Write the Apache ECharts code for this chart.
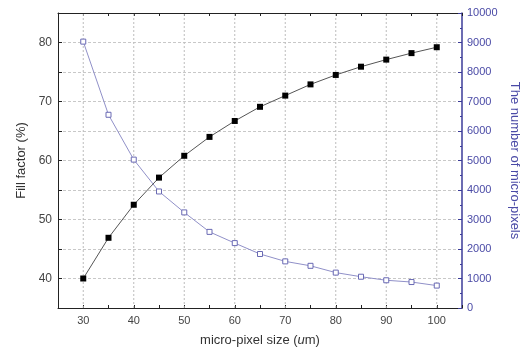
<!DOCTYPE html>
<html lang="en">
<head>
    <meta charset="UTF-8">
    <title>fill_factor_chart</title>
    <script src="https://cdn.jsdelivr.net/npm/echarts@6/dist/echarts.min.js"></script>
    <style>
        html, body { margin: 0; padding: 0; background: #fff; }
    </style>
</head>

<body>
    <div id="mainChart" style="width: 522px; height: 351px;"></div>
    <script>
        // micro-pixel size (um)
        let pixelSize = [30, 35, 40, 45, 50, 55, 60, 65, 70, 75, 80, 85, 90, 95, 100]
        // fill factor (%) - left axis
        let fillFactor = [40.0, 46.9, 52.5, 57.1, 60.8, 64.0, 66.7, 69.1, 71.0, 72.9, 74.5, 75.9, 77.1, 78.2, 79.2]
        // number of micro-pixels - right axis
        let pixelCount = [9030, 6550, 5030, 3950, 3240, 2580, 2200, 1830, 1580, 1430, 1200, 1060, 940, 880, 760]
        // labelled x ticks, also where the vertical grid lines sit
        let xMajor = [30, 40, 50, 60, 70, 80, 90, 100]

        let font = 'Liberation Sans, Arial, sans-serif'
        let blue = '#3b3b98'
        let gridColor = '#c8c8c8'

        function xAxisBase(pos) {
            return {
                type: 'value',
                position: pos,
                min: 25,
                max: 105,
                interval: 5,
                axisLine: { show: true, onZero: false, lineStyle: { color: '#222', width: 1 } },
                axisTick: { show: true, inside: true, length: 3, lineStyle: { color: '#222' } },
                splitLine: { show: false }
            }
        }

        let bottomX = xAxisBase('bottom')
        bottomX.name = '{a|micro-pixel size (}{i|u}{a|m)}'
        bottomX.nameLocation = 'middle'
        bottomX.nameGap = 26
        bottomX.nameTextStyle = {
            rich: {
                a: { fontSize: 13, color: '#333', fontFamily: font },
                i: { fontSize: 13, color: '#333', fontFamily: font, fontStyle: 'italic' }
            }
        }
        bottomX.axisLabel = {
            color: '#444',
            fontSize: 11,
            margin: 7,
            formatter: v => (v % 10 === 0 ? String(v) : '')
        }

        let topX = xAxisBase('top')
        topX.axisLabel = { show: false }

        // one thin dashed series per vertical grid line, drawn behind the data
        let gridSeries = xMajor.map(v => ({
            type: 'line',
            xAxisIndex: 0,
            yAxisIndex: 0,
            data: [[v, 35], [v, 85]],
            symbol: 'none',
            silent: true,
            z: 1,
            lineStyle: { color: '#bdbdbd', type: [2, 2], width: 1 }
        }))

        let chartsData = {
            animation: false,
            textStyle: { fontFamily: font },
            grid: { left: 58, right: 60, top: 13, bottom: 43, outerBoundsMode: 'none', containLabel: false },
            xAxis: [bottomX, topX],
            yAxis: [
                {
                    type: 'value',
                    position: 'left',
                    min: 35,
                    max: 85,
                    interval: 5,
                    name: 'Fill factor (%)',
                    nameLocation: 'middle',
                    nameGap: 28,
                    nameTextStyle: { fontSize: 13, color: '#333' },
                    axisLine: { show: true, lineStyle: { color: '#222', width: 1 } },
                    axisTick: { show: true, inside: true, length: 4, lineStyle: { color: '#222' } },
                    axisLabel: {
                        color: '#444',
                        fontSize: 12,
                        margin: 6,
                        formatter: v => (v % 10 === 0 ? String(v) : '')
                    },
                    splitLine: { show: true, lineStyle: { color: gridColor, type: [3, 2], width: 1 } }
                },
                {
                    type: 'value',
                    position: 'right',
                    min: 0,
                    max: 10000,
                    interval: 1000,
                    name: 'The number of micro-pixels',
                    nameLocation: 'middle',
                    nameRotate: -90,
                    nameGap: 46,
                    nameTextStyle: { fontSize: 13, color: '#4a4aa6' },
                    axisLine: { show: true, lineStyle: { color: blue, width: 1.5 } },
                    axisTick: { show: true, inside: true, length: 4, lineStyle: { color: blue } },
                    minorTick: { show: true, splitNumber: 2, length: 2, lineStyle: { color: blue } },
                    axisLabel: { color: '#4a4aa6', fontSize: 11, margin: 5, formatter: v => String(v) },
                    splitLine: { show: false }
                }
            ],
            series: gridSeries.concat([
                {
                    type: 'line',
                    name: 'Fill factor',
                    xAxisIndex: 0,
                    yAxisIndex: 0,
                    data: pixelSize.map((x, i) => [x, fillFactor[i]]),
                    symbol: 'rect',
                    symbolSize: 6,
                    itemStyle: { color: '#000' },
                    lineStyle: { color: '#555', width: 1 },
                    z: 3
                },
                {
                    type: 'line',
                    name: 'Number of micro-pixels',
                    xAxisIndex: 0,
                    yAxisIndex: 1,
                    data: pixelSize.map((x, i) => [x, pixelCount[i]]),
                    symbol: 'rect',
                    symbolSize: 5,
                    itemStyle: { color: '#fff', borderColor: '#6a6ab4', borderWidth: 1 },
                    lineStyle: { color: '#9090c8', width: 1 },
                    z: 2
                }
            ])
        }

        let charts = echarts.init(document.querySelector('#mainChart'))
        charts.setOption(chartsData, true)
    </script>
</body>

</html>
